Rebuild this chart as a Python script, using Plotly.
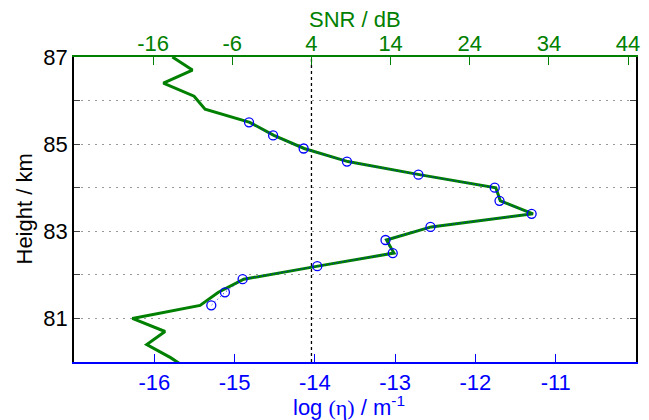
import plotly.graph_objects as go

# ---- data ----
snr_height = [87.0, 86.7, 86.4, 86.1, 85.8, 85.5, 85.2, 84.9, 84.6, 84.3, 84.0, 83.7,
              83.4, 83.1, 82.8, 82.5, 82.2, 81.9, 81.6, 81.3, 81.0, 80.7, 80.4, 80.1, 79.8]
snr_db = [-13.57, -11.04, -14.71, -10.83, -9.44, -3.79, -0.75, 3.08, 8.60, 17.62, 27.29, 27.86,
          31.99, 19.13, 13.48, 14.42, 4.81, -4.55, -7.76, -10.07, -18.63, -14.50, -16.81, -13.8, -11.3]

eta_height = [85.5, 85.2, 84.9, 84.6, 84.3, 84.0, 83.7, 83.4, 83.1, 82.8, 82.5, 82.2, 81.9, 81.6, 81.3]
log_eta = [-14.82, -14.52, -14.14, -13.60, -12.71, -11.76, -11.70, -11.30, -12.56, -13.12,
           -13.03, -13.97, -14.90, -15.12, -15.29]

snr_ticks = [-16, -6, 4, 14, 24, 34, 44]
snr_labels = ["-16", "-6", "4", "14", "24", "34", "44"]
eta_ticks = [-16, -15, -14, -13, -12, -11]
eta_labels = ["-16", "-15", "-14", "-13", "-12", "-11"]
height_ticks = [81, 82, 83, 84, 85, 86, 87]
height_labels = ["81", "", "83", "", "85", "", "87"]
snr_threshold = 4

GREEN = "#008000"
BLUE = "#0000ff"
FONT = "Liberation Sans, Arial, sans-serif"
FS = 22

fig = go.Figure()

fig.add_trace(go.Scatter(
    x=snr_db, y=snr_height, xaxis="x", yaxis="y", mode="lines",
    line=dict(color=GREEN, width=3), showlegend=False))

fig.add_trace(go.Scatter(
    x=log_eta, y=eta_height, xaxis="x2", yaxis="y", mode="lines+markers",
    line=dict(color=BLUE, width=1, dash="1px,3px"),
    marker=dict(symbol="circle-open", size=9, color=BLUE, line=dict(width=1.3, color=BLUE)),
    showlegend=False))

fig.add_shape(type="line", xref="x", yref="y", x0=snr_threshold, x1=snr_threshold,
              y0=80, y1=87, line=dict(color="black", width=1.3, dash="3px,3px"), layer="below")

fig.update_layout(
    width=649, height=420,
    margin=dict(l=74, r=13, t=57, b=58, autoexpand=False),
    plot_bgcolor="white", paper_bgcolor="white",
    font=dict(family=FONT, size=FS),
    xaxis=dict(  # top SNR axis
        side="top", range=[-26, 45], tickvals=snr_ticks, ticktext=snr_labels,
        showline=True, linecolor=GREEN, linewidth=1.5, automargin=False,
        ticks="inside", ticklen=8, tickcolor=GREEN, tickwidth=1.2,
        tickfont=dict(color=GREEN, size=FS, family=FONT), ticklabelstandoff=-5,
        showgrid=False, zeroline=False,
    ),
    xaxis2=dict(  # bottom log(eta) axis
        side="bottom", overlaying="x", anchor="y", range=[-17, -10], tickvals=eta_ticks,
        ticktext=eta_labels, automargin=False,
        showline=True, linecolor=BLUE, linewidth=1.5,
        ticks="inside", ticklen=8, tickcolor=BLUE, tickwidth=1.2,
        tickfont=dict(color=BLUE, size=FS, family=FONT), ticklabelstandoff=0,
        showgrid=False, zeroline=False,
    ),
    yaxis=dict(
        range=[80, 87], tickvals=height_ticks, ticktext=height_labels, automargin=False,
        showline=True, linecolor="black", linewidth=1.5, mirror="ticks",
        ticks="inside", ticklen=6, tickcolor="#444", tickwidth=1,
        tickfont=dict(color="black", size=FS, family=FONT), ticklabelstandoff=0,
        showgrid=True, gridcolor="#999", gridwidth=1, griddash="1.5px,5.5px",
        zeroline=False,
    ),
    annotations=[
        dict(text="SNR / dB", xref="paper", yref="paper", x=0.5, y=1, xanchor="center",
             yanchor="middle", yshift=38, showarrow=False, font=dict(color=GREEN, size=FS)),
        dict(text="log <span style='font-family:Liberation Serif, Times New Roman, serif'>(η)</span> / m<sup>-1</sup>",
             xref="paper", yref="paper", x=0.49, y=0, xanchor="center",
             yanchor="middle", yshift=-44, showarrow=False, font=dict(color=BLUE, size=FS)),
        dict(text="Height / km", xref="paper", yref="paper", x=0, y=0.5, xanchor="center",
             yanchor="middle", xshift=-50, textangle=-90, showarrow=False,
             font=dict(color="black", size=FS)),
    ],
)

fig.write_html("out.html", config={"displayModeBar": False},
               post_script="document.body.style.margin='0px';")
